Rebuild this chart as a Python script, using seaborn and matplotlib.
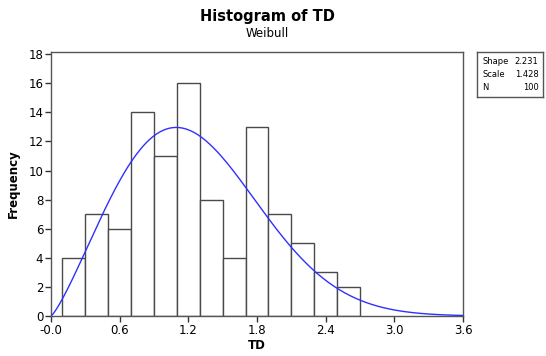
import numpy as np
import pandas as pd
import matplotlib
matplotlib.use("Agg")
import matplotlib.pyplot as plt
import seaborn as sns

# Data
bin_centers = [0.2, 0.4, 0.6, 0.8, 1.0, 1.2, 1.4, 1.6, 1.8, 2.0, 2.2, 2.4, 2.6]
counts = [4, 7, 6, 14, 11, 16, 8, 4, 13, 7, 5, 3, 2]
bin_width = 0.2
shape = 2.231
scale = 1.428
n_obs = 100
x_ticks = [0.0, 0.6, 1.2, 1.8, 2.4, 3.0, 3.6]
x_tick_labels = ["-0.0", "0.6", "1.2", "1.8", "2.4", "3.0", "3.6"]
y_ticks = [0, 2, 4, 6, 8, 10, 12, 14, 16, 18]

sns.set_theme(style="white")
plt.rcParams['font.family'] = ['DejaVu Sans']
plt.rcParams.update({"text.color": "black", "axes.labelcolor": "black",
                     "xtick.color": "black", "ytick.color": "black"})

fig = plt.figure(figsize=(5.46, 3.56), dpi=100)
ax = fig.add_axes([0.0934, 0.1124, 0.848 - 0.0934, 0.854 - 0.1124])

lo = bin_centers[0] - bin_width / 2
hi = bin_centers[-1] + bin_width / 2
df = pd.DataFrame({"TD": bin_centers, "w": counts})
sns.histplot(data=df, x="TD", weights="w", binwidth=bin_width, binrange=(lo, hi), ax=ax,
             color="white", edgecolor="#4a4a4a", linewidth=1.0, alpha=1.0)

# Fitted Weibull curve (from displayed parameters)
xs = np.linspace(0, 3.6, 300)
pdf = (shape / scale) * (xs / scale) ** (shape - 1) * np.exp(-(xs / scale) ** shape)
curve = pd.DataFrame({"x": xs, "y": pdf * n_obs * bin_width})
sns.lineplot(data=curve, x="x", y="y", ax=ax, color="#3030ff", linewidth=1.0, zorder=5)

ax.set_xlim(0, 3.6)
ax.set_ylim(0, 18.15)
ax.set_xticks(x_ticks)
ax.set_xticklabels(x_tick_labels)
ax.set_yticks(y_ticks)
ax.tick_params(axis="both", which="both", direction="out", length=4, width=1,
               color="#333333", labelcolor="black", labelsize=8.5, pad=1.5,
               bottom=True, left=True)
for s in ax.spines.values():
    s.set_color("#555555")
    s.set_linewidth(1.0)
ax.set_xlabel("TD", fontsize=8.5, fontweight="bold", labelpad=2, color="black")
ax.set_ylabel("Frequency", fontsize=8.5, fontweight="bold", labelpad=6, color="black")

fig.text(0.49, 0.955, "Histogram of TD", ha="center", va="center",
         fontsize=10.5, fontweight="bold", color="black")
fig.text(0.49, 0.905, "Weibull", ha="center", va="center", fontsize=8.5, color="black")

# Stats box
box = fig.add_axes([477 / 546, 1 - 97 / 356, 66 / 546, 45 / 356])
box.set_xticks([]); box.set_yticks([])
for s in box.spines.values():
    s.set_color("#555555"); s.set_linewidth(1.0)
box.set_xlim(0, 1); box.set_ylim(0, 1)
rows = [("Shape", f"{shape:.3f}"), ("Scale", f"{scale:.3f}"), ("N", f"{n_obs}")]
for i, (k, v) in enumerate(rows):
    yy = 0.8 - i * 0.3
    box.text(0.08, yy, k, fontsize=6, ha="left", va="center", color="black")
    box.text(0.93, yy, v, fontsize=6, ha="right", va="center", color="black")

fig.savefig("out.png", dpi=100)
